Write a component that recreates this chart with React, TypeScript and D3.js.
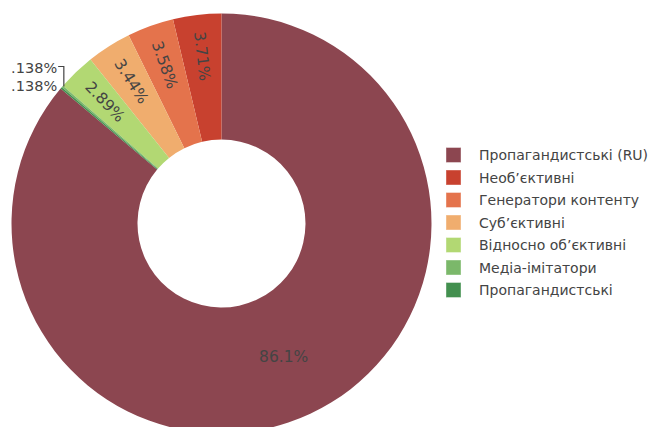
import React from "react";
import * as d3 from "d3";

const categories = [
  "Пропагандистські (RU)",
  "Необ’єктивні",
  "Генератори контенту",
  "Суб’єктивні",
  "Відносно об’єктивні",
  "Медіа-імітатори",
  "Пропагандистські",
];
const values = [86.1, 3.71, 3.58, 3.44, 2.89, 0.138, 0.138];
const colors = ["#8c4650", "#c8412f", "#e4734c", "#f0ad6e", "#b2d873", "#7bb86a", "#43904f"];

const W = 651;
const H = 427;
const cx = 221.5;
const cy = 223.5;
const R = 210;
const r0 = R * 0.4;
const FONT = "'DejaVu Sans', Verdana, sans-serif";
const TXT = "#444";

export default function App() {
  const total = d3.sum(values);
  const a0 = (2 * Math.PI * values[0]) / total;
  const pie = d3
    .pie<number>()
    .sort(null)
    .value((d) => d)
    .startAngle(a0)
    .endAngle(a0 - 2 * Math.PI);
  const arcs = pie(values);
  const arc = d3.arc<d3.PieArcDatum<number>>().innerRadius(r0).outerRadius(R);
  const fmt = d3.format(".3~r");

  const pt = (a: number, r: number) => [Math.sin(a) * r, -Math.cos(a) * r];

  const outside = arcs.filter((d) => d.value / total < 0.01);
  const inside = arcs.filter((d) => d.value / total >= 0.01);
  const lastOut = outside[outside.length - 1];
  const [axLast] = lastOut ? pt((lastOut.startAngle + lastOut.endAngle) / 2, R) : [0];

  const legendX = 446;
  const legendY0 = 155;
  const legendStep = 22.5;

  return (
    <svg
      width={W}
      height={H}
      style={{ position: "absolute", left: 0, top: 0, background: "#fff" }}
      fontFamily={FONT}
    >
      <defs>
        <clipPath id="outclip">
          <rect x={12} y={0} width={W - 12} height={H} />
        </clipPath>
      </defs>
      <g transform={`translate(${cx},${cy})`}>
        {arcs.map((d, i) => (
          <path key={i} d={arc(d) || ""} fill={colors[i]} />
        ))}
        {inside.map((d, i) => {
          const mid = (d.startAngle + d.endAngle) / 2;
          const big = d.value / total > 0.5;
          const rr = big ? (R + r0) / 2 : r0 + (R - r0) * 0.67;
          const [x, y] = pt(mid, rr);
          const rot = big ? 0 : (mid * 180) / Math.PI + 90;
          return (
            <text
              key={i}
              transform={`translate(${x},${y}) rotate(${rot})`}
              textAnchor="middle"
              dominantBaseline="central"
              fontSize={15.5}
              fill={TXT}
            >
              {fmt(d.value)}%
            </text>
          );
        })}
      </g>
      <g clipPath="url(#outclip)">
        <g transform={`translate(${cx},${cy})`}>
          {outside.map((d, i) => {
            const mid = (d.startAngle + d.endAngle) / 2;
            const [ax, ay] = pt(mid, R);
            const isLast = i === outside.length - 1;
            const ly = ay - 2 - (outside.length - 1 - i) * 16.5;
            const endX = axLast - 4;
            const path = isLast ? "" : `M${endX + 1},${ly - 1.5} H${ax + 1.5} V${ay}`;
            return (
              <g key={i}>
                {path && <path d={path} fill="none" stroke={TXT} strokeWidth={1.2} />}
                <text x={endX} y={ly} textAnchor="end" dominantBaseline="central" fontSize={14.5} fill={TXT}>
                  {fmt(d.value)}%
                </text>
              </g>
            );
          })}
        </g>
      </g>
      <g>
        {categories.map((c, i) => (
          <g key={c} transform={`translate(${legendX},${legendY0 + i * legendStep})`}>
            <rect x={0} y={-7.5} width={15} height={15} fill={colors[i]} stroke="#fff" strokeOpacity={0.4} strokeWidth={1} />
            <text x={33} y={0} dominantBaseline="central" fontSize={14} fill={TXT}>
              {c}
            </text>
          </g>
        ))}
      </g>
    </svg>
  );
}
